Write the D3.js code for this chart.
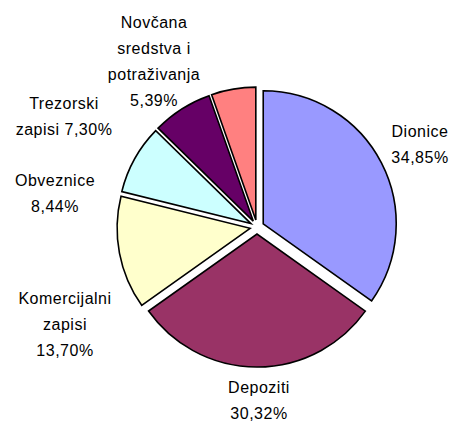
<!DOCTYPE html>
<html>
<head>
<meta charset="utf-8">
<script src="https://cdn.jsdelivr.net/npm/d3@7"></script>
<style>
  body { margin: 0; background: #fff; }
  svg { display: block; }
</style>
</head>
<body>
<div id="chart"></div>
<script>
// data
var categories = ["Dionice", "Depoziti", "Komercijalni zapisi", "Obveznice", "Trezorski zapisi", "Novčana sredstva i potraživanja"];
var shares = [34.85, 30.32, 13.70, 8.44, 7.30, 5.39];
var labelLines = [
    ["Dionice", "34,85%"],
    ["Depoziti", "30,32%"],
    ["Komercijalni", "zapisi", "13,70%"],
    ["Obveznice", "8,44%"],
    ["Trezorski", "zapisi 7,30%"],
    ["Novčana", "sredstva i", "potraživanja", "5,39%"]
];
var colors = ["#9999FF", "#993366", "#FFFFCC", "#CCFFFF", "#660066", "#FF8080"];

// layout
var width = 453, height = 421;
var cx = 257, cy = 227, radius = 133, explode = 7;
var line_height = 26;
// label block centres (Excel places these itself)
var label_pos = [[420, 144], [259, 400], [65, 324], [55, 193], [64, 116], [154, 61]];

var svg = d3.select("#chart")
    .append("svg")
    .attr("width", width)
    .attr("height", height);

var g = svg.append("g")
    .attr("transform", "translate(" + cx + "," + cy + ")");

var pie = d3.pie().sort(null).value(function(d) { return d; });
var arc = d3.arc().innerRadius(0).outerRadius(radius);

var slices = g.selectAll(".slice")
    .data(pie(shares))
    .enter().append("path")
    .attr("class", "slice")
    .attr("d", arc)
    .attr("fill", function(d, i) { return colors[i]; })
    .attr("stroke", "#000")
    .attr("stroke-width", 1.6)
    .attr("stroke-linejoin", "miter")
    .attr("transform", function(d) {
        var a = (d.startAngle + d.endAngle) / 2;
        return "translate(" + (Math.sin(a) * explode) + "," + (-Math.cos(a) * explode) + ")";
    });

// labels
var labels = svg.selectAll(".label")
    .data(labelLines)
    .enter().append("text")
    .attr("class", "label")
    .attr("text-anchor", "middle")
    .style("font-family", "'Liberation Sans', Arial, sans-serif")
    .style("font-size", "16px")
    .style("letter-spacing", "0.5px")
    .attr("fill", "#000");

labels.each(function(lines, i) {
    var t = d3.select(this);
    var top = label_pos[i][1] - (lines.length - 1) * line_height / 2;
    lines.forEach(function(s, j) {
        t.append("tspan")
            .attr("x", label_pos[i][0])
            .attr("y", top + j * line_height)
            .attr("dy", "0.35em")
            .text(s);
    });
});
</script>
</body>
</html>
